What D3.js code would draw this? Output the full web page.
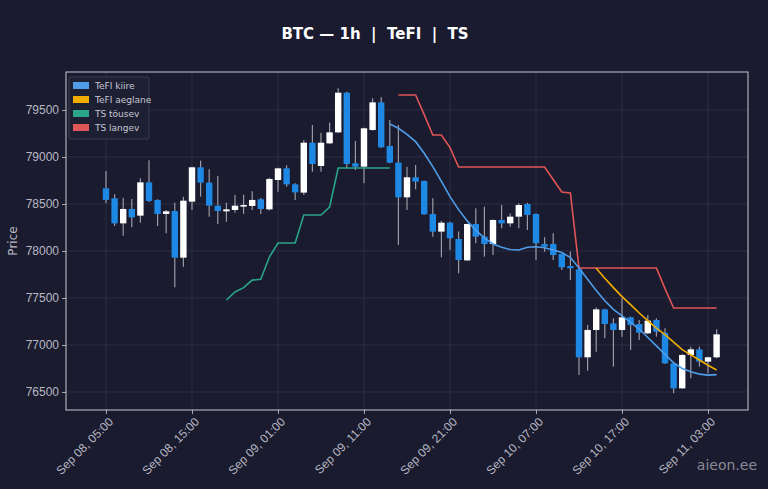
<!DOCTYPE html>
<html><head><meta charset="utf-8">
<script src="https://cdn.jsdelivr.net/npm/d3@7/dist/d3.min.js"></script>
<style>body{margin:0;background:#1a1b2e;}svg{display:block;font-family:"DejaVu Sans",sans-serif;}</style>
</head><body><svg id="c" width="768" height="489"></svg>
<script>
const open_ = [78667,78560,78294,78447,78376,78730,78543,78394,78425,77929,78525,78890,78727,78482,78422,78436,78472,78479,78550,78443,78755,78879,78709,78621,79152,78904,79145,79262,79684,78933,78897,79287,79581,79117,78940,78571,78784,78745,78394,78206,78301,78128,77900,78287,78152,78074,78330,78294,78365,78500,78394,78075,78075,77968,77840,77805,76869,77160,77379,77230,77160,77294,77223,77124,77266,77131,76805,76539,76894,76954,76823,76869];
const close_ = [78543,78294,78447,78358,78730,78532,78394,78422,77929,78535,78890,78727,78482,78425,78443,78482,78489,78543,78447,78766,78879,78709,78624,79152,78925,79152,79262,79684,78925,78897,79305,79581,79103,78940,78571,78784,78738,78390,78206,78301,78135,77904,78287,78152,78074,78330,78294,78365,78489,78383,78082,78046,77957,77826,77816,76869,77160,77379,77223,77160,77294,77213,77131,77259,77142,76805,76539,76894,76954,76823,76869,77113];
const high_ = [78851,78603,78567,78553,78773,78964,78550,78436,78514,78578,78895,78961,78869,78798,78514,78596,78599,78635,78564,78780,78885,78911,78720,79180,79340,79259,79365,79730,79695,79170,79310,79624,79635,79394,79340,78897,78915,78750,78560,78320,78310,78206,78290,78454,78471,78335,78489,78400,78507,78514,78400,78145,78188,77975,77993,77810,77213,77400,77385,77284,77496,77300,77266,77319,77284,77177,76823,76904,76982,76982,76876,77167];
const low_ = [78511,78266,78163,78252,78301,78520,78266,78188,77613,77833,78436,78578,78365,78287,78312,78408,78394,78436,78394,78430,78631,78684,78543,78596,78844,78844,79140,79255,78879,78862,78720,79280,79095,78933,78064,78436,78656,78385,78152,77933,78011,77762,77897,78081,77940,77957,78241,78259,78241,78223,77904,77993,77904,77798,77691,76681,76727,76929,77071,76770,77089,76947,77053,77117,77089,76798,76486,76535,76645,76770,76699,76860];
const tefiFastStart = 33;
const tefiFast = [79351,79305,79240,79163,79040,78897,78740,78578,78440,78320,78220,78140,78075,78040,78015,78010,78040,78045,78035,78010,77985,77930,77820,77700,77580,77470,77380,77310,77240,77170,77080,76990,76900,76810,76750,76715,76690,76680,76685];
const tefiSlowStart = 57;
const tefiSlow = [77816,77710,77610,77514,77430,77340,77260,77180,77110,77030,76950,76895,76840,76785,76734];
const tsUpStart = 14;
const tsUp = [77479,77564,77610,77690,77700,77936,78085,78085,78085,78383,78383,78383,78468,78883,78883,78883,78883,78883,78883,78883];
const tsDownStart = 34;
const tsDown = [79660,79660,79660,79450,79234,79234,79100,78893,78893,78893,78893,78893,78893,78893,78893,78893,78893,78893,78760,78628,78617,77819,77819,77819,77819,77819,77819,77819,77819,77819,77819,77600,77394,77394,77394,77394,77394,77394];
const yTicks = [76500,77000,77500,78000,78500,79000,79500];
const xTickIdx = [0,10,20,30,40,50,60,70];
const xTickLabels = ["Sep 08, 05:00","Sep 08, 15:00","Sep 09, 01:00","Sep 09, 11:00","Sep 09, 21:00","Sep 10, 07:00","Sep 10, 17:00","Sep 11, 03:00"];
const legendNames = ["TeFI kiire","TeFI aeglane","TS tõusev","TS langev"];
const legendColors = ["#4f9de8","#f0ad00","#2aa58a","#e05555"];

const svg = d3.select("#c");
const L=66,R=748,T=72,B=410;
const x = d3.scaleLinear().domain([-4.65,74.65]).range([L,R]);
const y = d3.scaleLinear().domain([76308.5,79904]).range([B,T]);

// grid
const g = svg.append("g");
g.selectAll(".gy").data(yTicks).enter().append("line").attr("x1",L).attr("x2",R).attr("y1",d=>y(d)).attr("y2",d=>y(d)).attr("stroke","#2c2e45").attr("stroke-width",1);
g.selectAll(".gx").data(xTickIdx).enter().append("line").attr("y1",T).attr("y2",B).attr("x1",d=>x(d)).attr("x2",d=>x(d)).attr("stroke","#2c2e45").attr("stroke-width",1);

// axes
const ya = svg.append("g").attr("transform",`translate(${L},0)`).call(d3.axisLeft(y).tickValues(yTicks).tickSize(4).tickFormat(d3.format("d")));
const xa = svg.append("g").attr("transform",`translate(0,${B})`).call(d3.axisBottom(x).tickValues(xTickIdx).tickSize(4).tickFormat((d,i)=>xTickLabels[i]));
[ya,xa].forEach(a=>{a.select(".domain").remove();a.selectAll("line").attr("stroke","#aaa");a.selectAll("text").attr("fill","#b8b8c4").attr("font-size",12);});
xa.selectAll("text").attr("text-anchor","end").attr("dx","-0.3em").attr("dy","0.6em").attr("transform","rotate(-45)");
svg.append("rect").attr("x",L).attr("y",T).attr("width",R-L).attr("height",B-T).attr("fill","none").attr("stroke","#c8c8d0").attr("stroke-width",1);

// candles
const idx = d3.range(open_.length);
const cw = 6.4;
svg.append("g").selectAll("line").data(idx).enter().append("line")
 .attr("x1",i=>x(i)).attr("x2",i=>x(i)).attr("y1",i=>y(high_[i])).attr("y2",i=>y(low_[i])).attr("stroke","#9a9aa6").attr("stroke-width",1.2);
svg.append("g").selectAll("rect").data(idx).enter().append("rect")
 .attr("x",i=>x(i)-cw/2).attr("width",cw)
 .attr("y",i=>y(Math.max(open_[i],close_[i])))
 .attr("height",i=>Math.max(1.5,Math.abs(y(open_[i])-y(close_[i]))))
 .attr("fill",i=>close_[i]>=open_[i]?"#ffffff":"#1e88e5");

// lines
function drawLine(arr,start,color){
  const line=d3.line().x((d,k)=>x(start+k)).y(d=>y(d));
  svg.append("path").datum(arr).attr("d",line).attr("fill","none").attr("stroke",color).attr("stroke-width",1.6);
}
drawLine(tsUp,tsUpStart,legendColors[2]);
drawLine(tsDown,tsDownStart,legendColors[3]);
drawLine(tefiFast,tefiFastStart,legendColors[0]);
drawLine(tefiSlow,tefiSlowStart,legendColors[1]);

// legend
const lg = svg.append("g").attr("transform","translate(69,77)");
lg.append("rect").attr("width",80).attr("height",62).attr("rx",2).attr("fill","#1d1f33").attr("stroke","#3a3c52");
legendNames.forEach((n,i)=>{
  lg.append("rect").attr("x",4).attr("y",5+i*14).attr("width",16).attr("height",7).attr("fill",legendColors[i]);
  lg.append("text").attr("x",26).attr("y",12+i*14).text(n).attr("fill","#c8c8d4").attr("font-size",9);
});

// titles
svg.append("text").attr("x",375).attr("y",39).attr("text-anchor","middle").attr("fill","#ffffff").attr("font-size",15).attr("font-weight","bold").text("BTC — 1h  |  TeFI  |  TS").style("white-space","pre");
svg.append("text").attr("transform","translate(17,241) rotate(-90)").attr("text-anchor","middle").attr("fill","#b8b8c4").attr("font-size",12).text("Price");
svg.append("text").attr("x",757).attr("y",470).attr("text-anchor","end").attr("fill","#8a8a96").attr("font-size",14).text("aieon.ee");
</script></body></html>
